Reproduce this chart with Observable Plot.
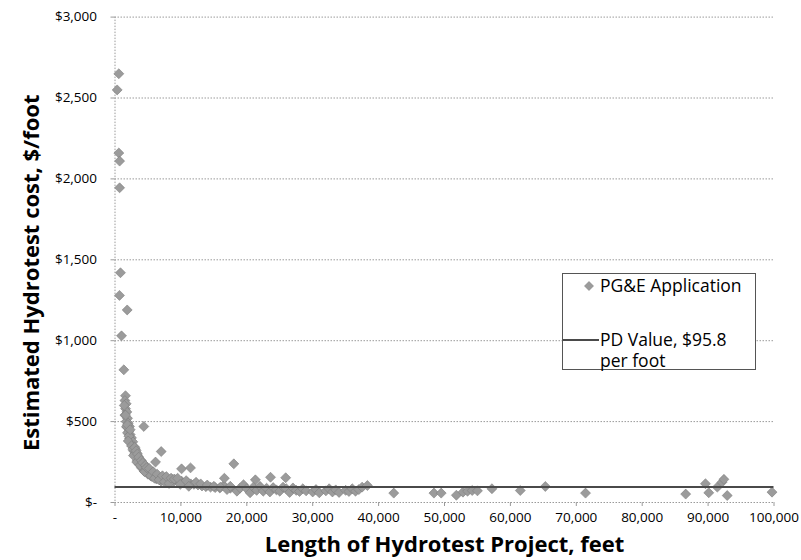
<!DOCTYPE html>
<html><head><meta charset="utf-8">
<script src="https://cdn.jsdelivr.net/npm/d3@7"></script>
<script src="https://cdn.jsdelivr.net/npm/@observablehq/plot@0.6"></script>
<style>
body{margin:0;background:#fff;font-family:"Open Sans",sans-serif;}
#wrap{position:relative;width:801px;height:560px;}
#legend{position:absolute;left:562px;top:273px;width:194px;height:97px;border:1px solid #555;background:#fff;box-sizing:border-box;font-size:17.5px;color:#000;}
#legend .t{position:absolute;left:37px;line-height:21px;white-space:pre;}
#legend svg{position:absolute;}
</style></head><body><div id="wrap"></div>
<script>
// Project length (feet) and estimated cost ($/foot), PG&E Application
const lengthFeet = [
  580, 330, 580, 700, 700, 830, 680, 1850, 990, 1340, 1590,
  1500, 1700, 1600, 1800, 1500, 1900, 1700, 2000, 1800, 2200, 2100, 1900, 2300, 2500, 2200, 2400, 2700, 2600, 2900, 2800,
  3100, 3000, 3300, 3200, 3500, 3400, 3700, 3900, 3600, 4100, 4300, 4000, 4500, 4700, 4400, 4900, 5100, 5300, 5000, 5500,
  5700, 5900, 5600, 6200, 6500, 6300, 6800, 7100, 7400, 7000, 7700, 8000, 8300, 8600, 8900, 9300, 9700, 10100, 10500,
  11000, 11500, 12000, 12600, 13200, 13800, 14500, 15200, 15900,
  1400, 1600, 1750, 1900, 2100, 2300, 2000, 2500, 2700, 3000, 2800, 3200, 3400, 3300, 3600, 3800, 4000, 4200, 4500, 4600,
  4800, 5200, 5400, 5800, 6000, 6400, 6700, 7200, 7500, 7800, 8200, 8500, 9000, 9500, 9900, 10800, 11200, 12300, 13000,
  14000, 15000, 16500, 17500,
  4370, 7010, 6150, 10100, 11460, 18030, 16600, 21300, 23600, 25900,
  16000, 17000, 17500, 18500, 19000, 19500, 20000, 20500, 21000, 21500, 22000, 22500, 23000, 23500, 24000, 24500, 25000,
  25500, 26000, 26500, 27000, 27500, 28000, 28500, 29000, 30000, 30500, 31000, 32000, 32500, 33000, 33500, 34000, 35000,
  35500, 36000, 36500, 37000, 37500, 38300,
  42300, 48400, 49500, 51800, 52800, 53500, 54200, 55000, 57200, 61500, 65300, 71400, 86600, 89600, 90100, 91400, 92100,
  92400, 92900, 99700
];
const costPerFoot = [
  2650, 2550, 2160, 2110, 1945, 1420, 1280, 1190, 1030, 820, 660,
  630, 610, 580, 560, 540, 520, 500, 490, 465, 470, 440, 430, 420, 400, 395, 370, 375, 350, 345, 320,
  330, 300, 305, 280, 285, 260, 265, 250, 240, 240, 225, 215, 215, 205, 195, 200, 190, 180, 175, 185,
  170, 165, 160, 160, 155, 145, 150, 145, 140, 132, 150, 140, 135, 145, 130, 138, 128, 132, 120,
  125, 115, 112, 108, 102, 98, 95, 92, 90,
  600, 540, 470, 480, 410, 450, 380, 350, 330, 340, 290, 320, 300, 250, 280, 230, 260, 245, 190, 230,
  215, 210, 165, 190, 150, 175, 140, 165, 128, 160, 118, 150, 145, 150, 112, 135, 100, 125, 115,
  108, 100, 105, 88,
  470, 315, 250, 208, 214, 239, 150, 140, 156, 153,
  95, 80, 100, 70, 90, 110, 85, 60, 95, 75, 100, 70, 88, 65, 92, 78, 70,
  95, 85, 62, 90, 75, 68, 85, 72, 65, 80, 60, 72, 85, 65, 78, 62, 75,
  68, 85, 70, 80, 95, 105,
  58, 58, 58, 45, 64, 70, 74, 72, 85, 74, 99, 58, 52, 116, 60, 95, 125,
  143, 43, 64
];
const pdValue = 95.8;
const seriesNames = ["PG&E Application", "PD Value, $95.8", "per foot"];
const xTicks = [0, 10000, 20000, 30000, 40000, 50000, 60000, 70000, 80000, 90000, 100000];
const yTicks = [0, 500, 1000, 1500, 2000, 2500, 3000];
const xTitle = "Length of Hydrotest Project, feet";
const yTitle = "Estimated Hydrotest cost, $/foot";

const points = lengthFeet.map((x, i) => ({x, y: costPerFoot[i]}));
const grid = {stroke: "#9a9a9a", strokeDasharray: "1.5,1.5", strokeWidth: 1};

const chart = Plot.plot({
  width: 801, height: 560,
  marginLeft: 114.5, marginRight: 27.5, marginTop: 16.6, marginBottom: 58,
  x: {domain: [xTicks[0], xTicks[xTicks.length - 1]]},
  y: {domain: [yTicks[0], yTicks[yTicks.length - 1]]},
  style: {fontFamily: "Open Sans", fontSize: "13.5px", color: "#000", background: "#fff", overflow: "visible"},
  marks: [
    Plot.ruleY(yTicks, grid),
    Plot.ruleX([xTicks[0]], grid),
    Plot.axisY({ticks: yTicks, tickFormat: v => v === 0 ? "$-" : "$" + d3.format(",")(v),
      tickSize: 4, tickPadding: 14, stroke: "#9a9a9a", label: null}),
    Plot.axisX({ticks: xTicks, tickFormat: v => v === 0 ? "-" : d3.format(",")(v),
      tickSize: 4, tickPadding: 6, stroke: "#9a9a9a", label: null}),
    Plot.dot(points, {x: "x", y: "y", symbol: "diamond2", r: 4.5, fill: "#9b9b9b", stroke: "#7d7d7d", strokeWidth: 0.6}),
    Plot.ruleY([pdValue], {x1: xTicks[0], x2: xTicks[xTicks.length - 1], stroke: "#4a4a4a", strokeWidth: 2}),
    Plot.text([xTitle], {frameAnchor: "bottom", lineAnchor: "middle", dy: 42, fontSize: 22, fontWeight: "bold", fill: "#000"}),
    Plot.text([yTitle], {frameAnchor: "left", textAnchor: "middle", lineAnchor: "middle", dx: -83, dy: 13, rotate: -90, fontSize: 22, fontWeight: "bold", fill: "#000"})
  ]
});
const wrap = document.getElementById("wrap");
wrap.appendChild(chart);

// legend
const lg = document.createElement("div");
lg.id = "legend";
lg.innerHTML = `
  <svg style="left:20px;top:6px" width="12" height="12"><path d="M6,1.5L10.5,6L6,10.5L1.5,6Z" fill="#9b9b9b" stroke="#7d7d7d" stroke-width="0.6"/></svg>
  <div class="t" style="top:1px"></div>
  <svg style="left:0px;top:64px" width="36" height="4"><line x1="0" x2="36" y1="2" y2="2" stroke="#4a4a4a" stroke-width="2"/></svg>
  <div class="t" style="top:55px"></div>`;
const ts = lg.querySelectorAll(".t");
ts[0].textContent = seriesNames[0];
ts[1].textContent = seriesNames[1] + "\n" + seriesNames[2];
wrap.appendChild(lg);
</script>
</body></html>
